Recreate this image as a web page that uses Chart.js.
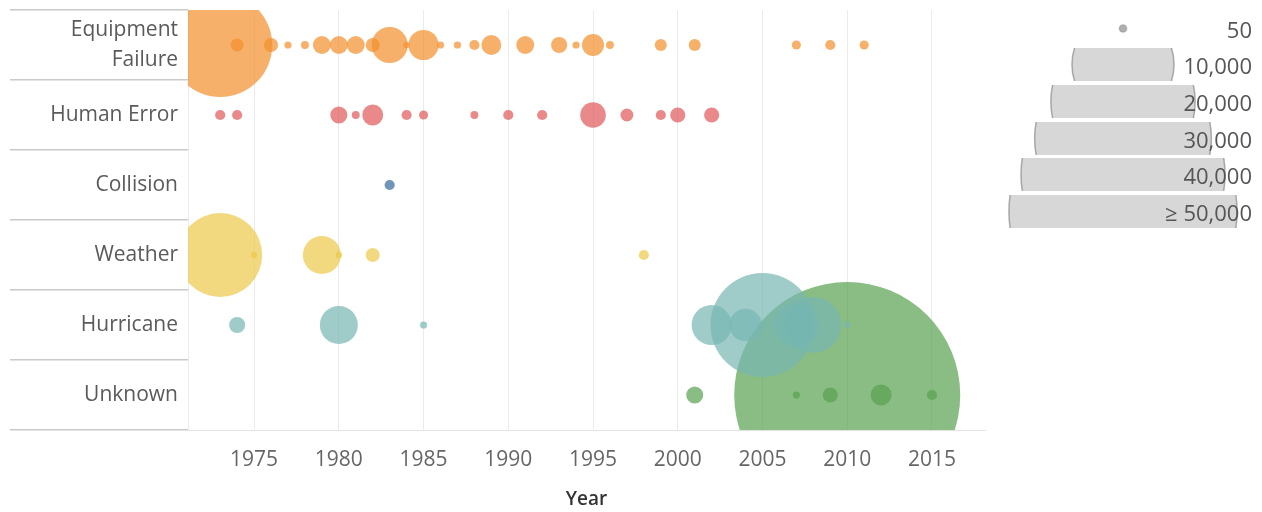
<!DOCTYPE html>
<html>
<head>
<meta charset="utf-8">
<script src="https://cdn.jsdelivr.net/npm/chart.js@4/dist/chart.umd.min.js"></script>
<style>
  html, body { margin: 0; padding: 0; background: #fff; }
  body { width: 1262px; height: 512px; position: relative; overflow: hidden; font-family: "Open Sans", sans-serif; }
  #main { position: absolute; left: 0; top: 0; }
  .lg { position: absolute; left: 1000px; }
  .lgt { position: absolute; right: 10px; width: 200px; text-align: right; font-size: 22px; color: #555; height: 30px; line-height: 30px; white-space: nowrap; }
</style>
</head>
<body>
<canvas id="main" width="1000" height="512"></canvas>
<div id="legend"></div>
<script>
// ---- data ----
const categories = ['Equipment Failure', 'Human Error', 'Collision', 'Weather', 'Hurricane', 'Unknown'];
const xTickYears = [1975, 1980, 1985, 1990, 1995, 2000, 2005, 2010, 2015];

const equipmentYears  = [1973, 1974, 1976, 1977, 1978, 1979, 1980, 1981, 1982, 1983, 1984, 1985, 1986, 1987, 1988, 1989, 1991, 1993, 1994, 1995, 1996, 1999, 2001, 2007, 2009, 2011];
const equipmentValues = [10400, 160, 190, 50, 60, 310, 310, 310, 190, 1250, 40, 870, 50, 50, 100, 380, 310, 250, 50, 470, 60, 140, 140, 80, 100, 80];

const humanYears  = [1973, 1974, 1980, 1981, 1982, 1984, 1985, 1988, 1990, 1992, 1995, 1997, 1999, 2000, 2002];
const humanValues = [100, 100, 280, 60, 420, 100, 80, 60, 100, 100, 630, 160, 100, 220, 220];

const collisionYears  = [1983];
const collisionValues = [100];

const weatherYears  = [1973, 1975, 1979, 1980, 1982, 1998];
const weatherValues = [6780, 40, 1390, 40, 190, 100];

const hurricaneYears  = [1974, 1980, 1985, 2002, 2004, 2005, 2007, 2008, 2010];
const hurricaneValues = [250, 1390, 50, 1540, 1000, 10400, 1860, 3000, 40];

const unknownYears  = [2001, 2007, 2009, 2010, 2012, 2015];
const unknownValues = [280, 50, 220, 49100, 420, 100];

const legendValues = [50, 10000, 20000, 30000, 40000, 50000];
const legendLabels = ['50', '10,000', '20,000', '30,000', '40,000', '\u2265 50,000'];

// ---- styling ----
const seriesColors = ['rgba(242,142,43,0.7)', 'rgba(225,87,89,0.7)', 'rgba(78,121,167,0.8)', 'rgba(237,201,72,0.7)', 'rgba(118,183,178,0.7)', 'rgba(89,161,79,0.7)'];
const seriesYears = [equipmentYears, humanYears, collisionYears, weatherYears, hurricaneYears, unknownYears];
const seriesValues = [equipmentValues, humanValues, collisionValues, weatherValues, hurricaneValues, unknownValues];

function radiusFor(v) { return 51 * Math.sqrt(v / 10000); }
function noPad(s) { s.paddingTop = 0; s.paddingBottom = 0; s.paddingLeft = 0; s.paddingRight = 0; }

const FONT = '"Open Sans", sans-serif';

const datasets = categories.map((cat, i) => ({
  label: cat,
  data: seriesYears[i].map((yr, j) => ({ x: yr, y: cat, r: radiusFor(seriesValues[i][j]) })),
  backgroundColor: seriesColors[i],
  borderWidth: 0,
  clip: 0
}));

new Chart(document.getElementById('main'), {
  type: 'bubble',
  data: { datasets },
  options: {
    responsive: false,
    animation: false,
    devicePixelRatio: 1,
    layout: { autoPadding: false, padding: { left: 10, right: 15, top: 10, bottom: 0 } },
    plugins: { legend: { display: false }, tooltip: { enabled: false } },
    scales: {
      x: {
        type: 'linear',
        min: 1971.1,
        max: 2018.13,
        afterBuildTicks: s => { s.ticks = xTickYears.map(v => ({ value: v })); },
        afterFit: s => { s.height = 82; noPad(s); },
        grid: { color: '#ebebeb', lineWidth: 1, drawTicks: false },
        border: { display: true, color: '#e3e3e3' },
        ticks: { padding: 17, color: '#666', font: { family: FONT, size: 21 }, callback: v => String(v), maxRotation: 0, autoSkip: false },
        title: { display: true, text: 'Year', color: '#333', font: { family: FONT, size: 19, weight: '600' }, padding: { top: 0, bottom: 1 } }
      },
      y: {
        type: 'category',
        labels: categories,
        offset: true,
        afterFit: s => { s.width = 178; noPad(s); },
        grid: { offset: true, drawOnChartArea: false, drawTicks: true, tickLength: 178, color: '#cacaca', lineWidth: 1.5 },
        border: { display: true, color: '#ececec' },
        ticks: {
          padding: -168,
          autoSkip: false,
          color: '#5a5a5a',
          font: { family: FONT, size: 21, lineHeight: 1.42 },
          callback: function (v) {
            const l = this.getLabelForValue(v);
            return l === 'Equipment Failure' ? ['Equipment', 'Failure'] : l;
          }
        }
      }
    }
  }
});

// ---- size legend: each row clips a bubble of that size to its strip ----
const legendDiv = document.getElementById('legend');
const stripTops = [12, 48, 85, 122, 158, 195];
legendValues.forEach((v, i) => {
  const c = document.createElement('canvas');
  c.className = 'lg';
  c.width = 246; c.height = 33;
  c.style.top = stripTops[i] + 'px';
  legendDiv.appendChild(c);
  new Chart(c, {
    type: 'bubble',
    data: { datasets: [{ data: [{ x: 0, y: 0, r: radiusFor(v) }], backgroundColor: i === 0 ? 'rgba(150,150,150,0.75)' : 'rgba(200,200,200,0.72)', borderColor: i === 0 ? 'rgba(150,150,150,0.6)' : 'rgba(150,150,150,0.8)', borderWidth: 1.5, clip: 0 }] },
    options: {
      responsive: false, animation: false, devicePixelRatio: 1,
      layout: { autoPadding: false, padding: 0 },
      plugins: { legend: { display: false }, tooltip: { enabled: false } },
      scales: {
        x: { display: false, min: -1, max: 1 },
        y: { display: false, min: -1, max: 1 }
      }
    }
  });
  const t = document.createElement('div');
  t.className = 'lgt';
  t.textContent = legendLabels[i];
  t.style.top = (stripTops[i] + 16.5 - 15) + 'px';
  legendDiv.appendChild(t);
});
</script>
</body>
</html>
